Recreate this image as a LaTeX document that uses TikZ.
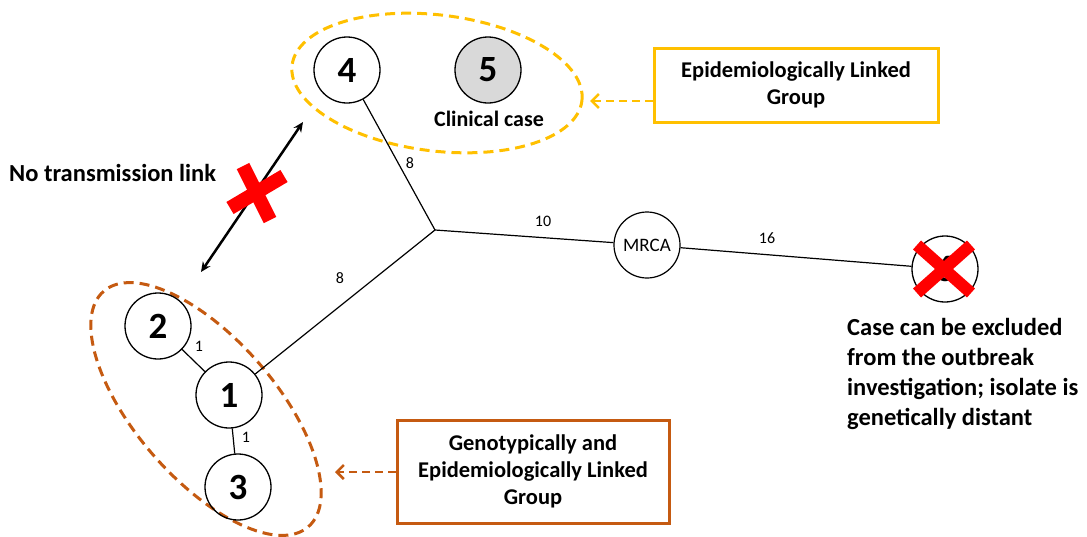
\documentclass[tikz,border=0pt]{standalone}
\usepackage{fontspec}
\setmainfont{Carlito}
\usetikzlibrary{arrows.meta,shapes.geometric}
\definecolor{gold}{HTML}{FFC000}
\definecolor{rust}{HTML}{C55A11}
\definecolor{casegray}{HTML}{D9D9D9}
\definecolor{xred}{HTML}{FF0000}

\begin{document}
\begin{tikzpicture}[x=1pt,y=-1pt,
  isolate/.style={circle, draw, line width=1.3pt, minimum size=66pt, inner sep=0pt,
                  font=\fontsize{37}{37}\selectfont\bfseries},
  branch/.style={line width=1.2pt},
  blen/.style={inner sep=0pt, font=\fontsize{16}{16}\selectfont},
  groupring/.style={ellipse, draw, line width=3pt, dash pattern=on 10pt off 6pt, inner sep=0pt},
  legend/.style={draw=#1, line width=3pt, fill=white, text=black, align=center, inner sep=0pt,
                 font=\fontsize{22.5}{27}\selectfont\bfseries},
  pointer/.style={line width=2.5pt, dash pattern=on 8pt off 5pt,
                  -{Straight Barb[length=7pt,width=14pt]}},
  cross/.style={xred, line width=14pt},
  note/.style={inner sep=0pt, font=\fontsize{24.5}{30}\selectfont\bfseries},
]
\useasboundingbox (0,0) rectangle (1087,536);

% group outlines
\node[groupring, gold, minimum width=292pt, minimum height=136pt, rotate=-7] (epi) at (437,83) {};
\node[groupring, rust, minimum width=312pt, minimum height=140pt, rotate=-49] (geno) at (206,409) {};

% isolates
\node[isolate] (n4) at (347,70) {4};
\node[isolate, fill=casegray] (n5) at (488,70) {5};
\node[inner sep=0pt, font=\fontsize{22}{22}\selectfont\bfseries] (clin) at (489,119) {Clinical case};
\node[isolate] (n1) at (229,395) {1};
\node[isolate] (n2) at (158,326) {2};
\node[isolate] (n3) at (238,487) {3};
\node[isolate] (n6) at (945,269) {6};
\node[circle, draw, line width=1.2pt, minimum size=66pt, inner sep=0pt,
      font=\fontsize{19}{19}\selectfont] (mrca) at (647,245) {MRCA};
\coordinate (j) at (435,230);

% tree branches
\draw[branch] (n4) -- (j);
\draw[branch] (j) -- (mrca);
\draw[branch] (mrca) -- (n6);
\draw[branch] (j) -- (n1);
\draw[branch] (n2) -- (n1);
\draw[branch] (n1) -- (n3);

% branch lengths
\node[blen] (l4) at (410,163) {8};
\node[blen] (lm) at (543,221) {10};
\node[blen] (l6) at (767,238) {16};
\node[blen] (l1) at (340,278) {8};
\node[blen] (l2) at (199,346) {1};
\node[blen] (l3) at (246,437) {1};

% excluded isolate
\draw[xred, line width=12pt] (917,245) -- (971,293);
\draw[xred, line width=12pt] (971,245) -- (917,293);

% broken transmission link
\coordinate (tipA) at (201,272);
\coordinate (tipB) at (303,122);
\draw[line width=2.5pt, {Stealth[length=10pt,width=9pt]}-{Stealth[length=10pt,width=9pt]}] (tipA) -- (tipB);
\draw[cross] (243,166) -- (270,220);
\draw[cross] (230,208) -- (284,176);
\node[note, anchor=west] (nolink) at (9,173) {No transmission link};

% legends
\node[legend=gold, minimum width=284pt, minimum height=74pt] (ybox) at (796,85)
  {Epidemiologically Linked\\Group};
\node[legend=rust, minimum width=272pt, minimum height=103pt] (obox) at (533,471.5)
  {Genotypically and\\Epidemiologically Linked\\Group};
\coordinate (yend) at (590,101);
\coordinate (oend) at (335,472);
\draw[pointer, gold] (ybox.west |- yend) -- (yend);
\draw[pointer, rust] (obox.west |- oend) -- (oend);

\node[note, anchor=north west, align=left] (excl) at (847,318)
  {Case can be excluded\\from the outbreak\\investigation; isolate is\\genetically distant};
\end{tikzpicture}
\end{document}
